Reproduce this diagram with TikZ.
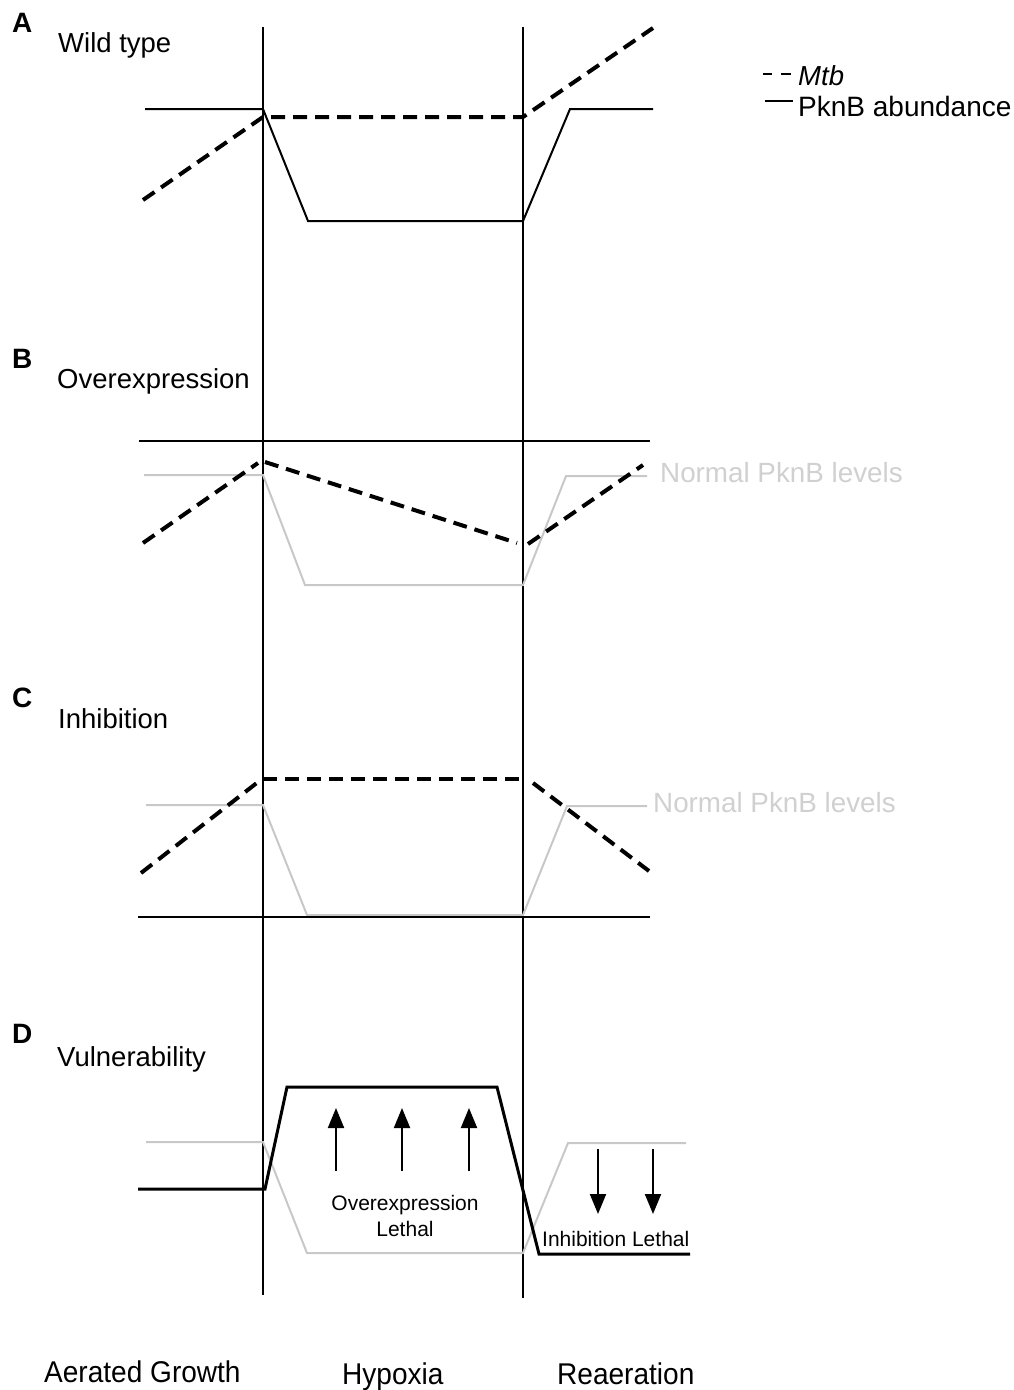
\documentclass[tikz,border=0pt]{standalone}
\usepackage{fontspec}
\setmainfont{Liberation Sans}
\usetikzlibrary{arrows.meta}
\definecolor{normline}{RGB}{200,200,200}
\definecolor{normtext}{RGB}{208,208,208}
\newcommand{\fs}[1]{\fontsize{#1pt}{#1pt}\selectfont}
\tikzset{
  phase/.style={line width=2pt},
  pknb/.style={line width=2pt, line join=miter},
  mtb/.style={line width=4pt, dash pattern=on 14pt off 8pt},
  normal/.style={line width=2pt, normline},
  ref/.style={line width=2pt},
  vuln/.style={line width=3pt},
  lbl/.style={anchor=base west, inner sep=0pt},
  panel/.style={lbl, font=\fs{28}\bfseries},
  ttl/.style={lbl, font=\fs{27.5}},
  normlbl/.style={lbl, font=\fs{27.8}, text=normtext},
  small/.style={anchor=base, inner sep=0pt, font=\fs{21}},
  stage/.style={anchor=base west, inner sep=0pt, font=\fs{30}, xscale=0.935},
  upar/.style={line width=2pt, -{Triangle[width=16pt,length=20pt]}},
}
\begin{document}
\begin{tikzpicture}[x=1pt, y=-1pt]
\useasboundingbox (0,0) rectangle (1014,1390);

% phase boundaries
\draw[phase] (263,27) -- (263,1295);
\draw[phase] (523,27) -- (523,1298);

% ---------- A: wild type ----------
\node[panel] (pa) at (12,32) {A};
\node[ttl] (ta) at (58,52) {Wild type};
\draw[pknb] (145,109) -- (263,109) -- (308,221) -- (523,221) -- (570,109) -- (653,109);
\draw[mtb] (143,200) -- (263,117) -- (523,117) -- (653,28);

% legend
\draw[line width=2.5pt] (763,74) -- (772,74);
\draw[line width=2.5pt] (781,74) -- (791,74);
\node[lbl, font=\fs{27.5}\itshape] (lmtb) at (798,85) {Mtb};
\draw[line width=2pt] (765,101) -- (793,101);
\node[lbl, font=\fs{28}] (lpk) at (798,116) {PknB abundance};

% ---------- B: overexpression ----------
\node[panel] (pb) at (12,368) {B};
\node[ttl] (tb) at (57,388) {Overexpression};
\draw[ref] (139,441) -- (650,441);
\draw[normal] (144,475) -- (263,475) -- (305,585) -- (523,585) -- (566,476) -- (647,476);
\node[normlbl] (nb) at (660,482) {Normal PknB levels};
\draw[mtb] (143,543) -- (258,463);
\draw[mtb] (265,462) -- (517,543);
\draw[mtb] (528,544) -- (643,465);

% ---------- C: inhibition ----------
\node[panel] (pc) at (12,707) {C};
\node[ttl] (tc) at (58,728) {Inhibition};
\draw[normal] (146,805) -- (263,805) -- (307,915) -- (523,915) -- (567,806) -- (647,806);
\node[normlbl] (nc) at (653,812) {Normal PknB levels};
\draw[ref] (138,917) -- (650,917);
\draw[mtb] (141,873) -- (258,782);
\draw[mtb] (263,779) -- (523,779);
\draw[mtb] (533,783) -- (649,871);

% ---------- D: vulnerability ----------
\node[panel] (pd) at (12,1043) {D};
\node[ttl] (td) at (57,1066) {Vulnerability};
\draw[normal] (146,1142) -- (263,1142) -- (307,1253) -- (523,1253) -- (568,1143) -- (686,1143);
\draw[vuln] (138,1189) -- (265,1189) -- (287,1087) -- (497,1087) -- (539,1254) -- (690,1254);

\coordinate (u1a) at (336,1171); \coordinate (u1b) at (336,1108);
\coordinate (u2a) at (402,1171); \coordinate (u2b) at (402,1108);
\coordinate (u3a) at (469,1171); \coordinate (u3b) at (469,1108);
\draw[upar] (u1a) -- (u1b);
\draw[upar] (u2a) -- (u2b);
\draw[upar] (u3a) -- (u3b);
\coordinate (d1a) at (598,1149); \coordinate (d1b) at (598,1214);
\coordinate (d2a) at (653,1149); \coordinate (d2b) at (653,1214);
\draw[upar] (d1a) -- (d1b);
\draw[upar] (d2a) -- (d2b);

\node[small] (ol1) at (405,1210) {Overexpression};
\node[small] (ol2) at (405,1236) {Lethal};
\node[small, anchor=base west] (il) at (542,1246) {Inhibition Lethal};

% ---------- stages ----------
\node[stage] (s1) at (44,1382) {Aerated Growth};
\node[stage] (s2) at (342,1384) {Hypoxia};
\node[stage] (s3) at (557,1384) {Reaeration};
\end{tikzpicture}
\end{document}
